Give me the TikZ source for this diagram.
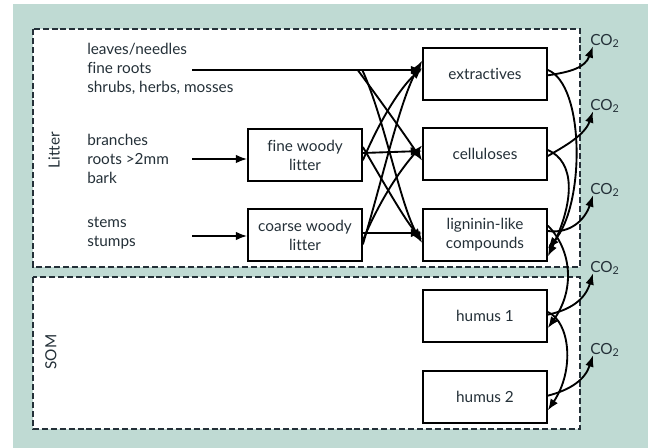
\documentclass[tikz,border=0pt]{standalone}
\usepackage{fontspec}
\setmainfont{Lato}[Ligatures=NoCommon]
\usetikzlibrary{arrows.meta,positioning}
\definecolor{panel}{RGB}{191,218,211}
\definecolor{ink}{RGB}{36,48,56}

\begin{document}
\begin{tikzpicture}[x=0.75pt,y=0.75pt,yscale=-1,xscale=1,
  txt/.style={text=ink,inner sep=0.75pt,font=\fontsize{11.5}{14.25}\selectfont},
  pool/.style={txt,draw=black,line width=1.3pt,fill=white,minimum width=93pt,minimum height=39pt,align=center},
  wood/.style={pool,minimum width=85.5pt},
  flow/.style={-{Latex[length=8.5pt,width=6.5pt]},line width=1.4pt},
  zone/.style={draw=ink,dash pattern=on 4.5pt off 2.2pt,line width=1.1pt,fill=white}]
\useasboundingbox (0,0) rectangle (654,448);

%Shape: Background
\fill[panel] (13,4) rectangle (648,448);
%Shape: Litter and SOM zones
\draw[zone] (33,29) rectangle (580,267);
\draw[zone] (33,277) rectangle (580,429);

% Text Node: zone labels
\node[txt,rotate=90] (litter) at (54,150) {Litter};
\node[txt,rotate=90] (som) at (51,352) {SOM};

% Text Node: inputs
\node[txt,align=left,anchor=west] (leaves) at (86,69) {leaves/needles\\fine roots\\shrubs, herbs, mosses};
\node[txt,align=left,anchor=west] (branches) at (86,159) {branches\\roots >2mm\\bark};
\node[txt,align=left,anchor=west] (stems) at (86,233) {stems\\stumps};
\coordinate (in1) at (192,70);
\coordinate (in2) at (192,159);
\coordinate (in3) at (192,236);

% Pools
\node[wood] (fwl) at (305,155) {fine woody\\litter};
\node[wood] (cwl) at (305,235) {coarse woody\\litter};
\node[pool] (ext) at (485,74) {extractives};
\node[pool] (cel) at (485,154) {celluloses};
\node[pool] (lig) at (485,235) {ligninin-like\\compounds};
\node[pool] (hum1) at (485,316) {humus 1};
\node[pool] (hum2) at (485,397) {humus 2};

% Text Node: CO2
\node[txt,anchor=west] (co2a) at (589,41) {CO\textsubscript{2}};
\node[txt,anchor=west] (co2b) at (589,106) {CO\textsubscript{2}};
\node[txt,anchor=west] (co2c) at (589,190) {CO\textsubscript{2}};
\node[txt,anchor=west] (co2d) at (589,268) {CO\textsubscript{2}};
\node[txt,anchor=west] (co2e) at (589,350) {CO\textsubscript{2}};

%Straight Lines: inputs
\draw[flow] (in1) -- coordinate[pos=0.72] (split1) coordinate[pos=0.74] (split2) (in1 -| ext.west);
\draw[flow] (in2) -- (in2 -| fwl.west);
\draw[flow] (in3) -- (in3 -| cwl.west);

%Curve Lines: into the litter pools
\draw[flow] (split1) .. controls (380,100) and (405,135) .. ([yshift=5pt]cel.west);
\draw[flow] (split2) .. controls (385,120) and (400,205) .. ([yshift=6pt]lig.west);
\draw[flow] ([yshift=4pt]fwl.east) .. controls (380,120) and (400,88) .. ([yshift=-4.5pt]ext.west);
\draw[flow] ([yshift=-1.5pt]fwl.east) -- ([yshift=-2.25pt]cel.west);
\draw[flow] ([yshift=-6pt]fwl.east) .. controls (385,185) and (405,220) .. ([yshift=3.5pt]lig.west);
\draw[flow] ([yshift=7pt]cwl.east) .. controls (385,170) and (400,100) .. ([yshift=-10pt]ext.west);
\draw[flow] ([yshift=4pt]cwl.east) .. controls (380,200) and (400,170) .. ([yshift=-6.5pt]cel.west);
\draw[flow] ([yshift=-1.5pt]cwl.east) -- ([yshift=-1.5pt]lig.west);

%Curve Lines: transfers between pools
\draw[flow] ([yshift=-3pt]ext.east) .. controls (585,85) and (585,205) .. ([yshift=10pt]lig.east);
\draw[flow] ([yshift=-3pt]cel.east) .. controls (575,162) and (575,200) .. ([yshift=16pt]lig.east);
\draw[flow] ([yshift=-7pt]lig.east) .. controls (572,250) and (575,290) .. ([yshift=9pt]hum1.east);
\draw[flow] ([yshift=-3pt]hum1.east) .. controls (570,322) and (575,370) .. ([yshift=10pt]hum2.east);

%Curve Lines: respiration
\draw[flow] ([yshift=1pt]ext.east) .. controls (570,72) and (585,68) .. ([xshift=3pt,yshift=-2pt]co2a.south west);
\draw[flow] ([yshift=1.5pt]cel.east) .. controls (565,146) and (585,135) .. ([xshift=3pt,yshift=-2pt]co2b.south west);
\draw[flow] ([yshift=-3pt]lig.east) .. controls (570,234) and (585,220) .. ([xshift=3pt,yshift=-2pt]co2c.south west);
\draw[flow] ([yshift=-1pt]hum1.east) .. controls (570,310) and (585,300) .. ([xshift=3pt,yshift=-2pt]co2d.south west);
\draw[flow] ([yshift=-1pt]hum2.east) .. controls (570,390) and (585,380) .. ([xshift=3pt,yshift=-2pt]co2e.south west);

\end{tikzpicture}
\end{document}
